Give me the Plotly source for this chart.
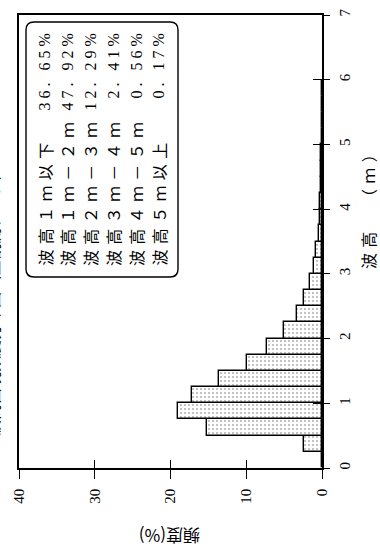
"""Wave height frequency histogram (rotated page layout) using Plotly."""

import plotly.graph_objects as go

# ---- data ----
bin_centers = [0.125, 0.375, 0.625, 0.875, 1.125, 1.375, 1.625, 1.875,
               2.125, 2.375, 2.625, 2.875, 3.125, 3.375, 3.625, 3.875,
               4.125, 4.375, 4.625, 4.875, 5.125, 5.375, 5.625, 5.875]
freq = [0.0, 2.4, 15.2, 19.0, 17.1, 13.6, 9.9, 7.3,
        5.0, 3.3, 2.4, 1.6, 1.05, 0.75, 0.4, 0.2,
        0.22, 0.15, 0.11, 0.08, 0.06, 0.05, 0.04, 0.02]
bin_width = 0.25

class_labels = ["波高１ｍ以下", "波高１ｍ－２ｍ", "波高２ｍ－３ｍ",
                "波高３ｍ－４ｍ", "波高４ｍ－５ｍ", "波高５ｍ以上"]
class_values = ["36. 65%", "47. 92%", "12. 29%", "2. 41%", "0. 56%", "0. 17%"]

height_ticks = [0, 1, 2, 3, 4, 5, 6, 7]
freq_ticks = [0, 10, 20, 30, 40]

W, H = 380, 552
L, R, T, B = 19, 58, 15, 84
PW, PH = W - L - R, H - T - B

SERIF = "Liberation Serif, Noto Sans CJK JP, serif"
CJK = "Noto Sans CJK JP, Liberation Serif, sans-serif"


def px(xp):
    return (xp - L) / PW


def py(yp):
    return (H - B - yp) / PH


def spaced(s, gap):
    # old typeset look: wide character pitch
    return gap.join(s)


fig = go.Figure()

fig.add_trace(go.Bar(
    y=bin_centers, x=freq, orientation="h", width=bin_width,
    marker=dict(color="white", line=dict(color="black", width=1.4),
                pattern=dict(shape=".", fgcolor="#555555", bgcolor="white",
                             size=4, solidity=0.18)),
    showlegend=False, hoverinfo="skip",
))
# empty trace just so the overlaid (inside-tick) axes get drawn
fig.add_trace(go.Scatter(x=[None], y=[None], xaxis="x2", yaxis="y2",
                         showlegend=False, hoverinfo="skip"))

axis_common = dict(showgrid=False, zeroline=False, color="black")

fig.update_layout(
    width=W, height=H,
    margin=dict(l=L, r=R, t=T, b=B, autoexpand=False),
    paper_bgcolor="white", plot_bgcolor="white",
    bargap=0,
    xaxis=dict(range=[40, 0], tickvals=freq_ticks, tickangle=-90,
               ticks="outside", ticklen=9, tickwidth=1.3, tickcolor="black",
               showline=True, linewidth=1.6, linecolor="black", mirror=True,
               tickfont=dict(family=SERIF, size=15, color="black"),
               ticklabelstandoff=4, **axis_common),
    yaxis=dict(range=[0, 7], tickvals=height_ticks, tickangle=-90, side="right",
               ticks="outside", ticklen=6, tickwidth=1.3, tickcolor="black",
               showline=True, linewidth=1.6, linecolor="black", mirror=True,
               tickfont=dict(family=SERIF, size=15, color="black"),
               ticklabelstandoff=2, **axis_common),
    xaxis2=dict(range=[40, 0], tickvals=freq_ticks, overlaying="x", side="bottom",
                anchor="y2", ticks="inside", ticklen=8, tickwidth=1.3,
                tickcolor="black", showticklabels=False, **axis_common),
    yaxis2=dict(range=[0, 7], tickvals=height_ticks, overlaying="y", side="right",
                anchor="x2", ticks="inside", ticklen=9, tickwidth=1.3,
                tickcolor="black", showticklabels=False, **axis_common),
)

# rounded legend box
x0, x1, y0, y1, r = px(26), px(178), py(22), py(277), 8
rx, ry = r / PW, r / PH
path = (f"M {x0 + rx},{y0} L {x1 - rx},{y0} Q {x1},{y0} {x1},{y0 - ry} "
        f"L {x1},{y1 + ry} Q {x1},{y1} {x1 - rx},{y1} "
        f"L {x0 + rx},{y1} Q {x0},{y1} {x0},{y1 + ry} "
        f"L {x0},{y0 - ry} Q {x0},{y0} {x0 + rx},{y0} Z")
fig.add_shape(type="path", path=path, xref="paper", yref="paper",
              line=dict(color="black", width=1.4), fillcolor="rgba(0,0,0,0)")

col_x = [44, 67, 90, 113, 136, 158]
for cx, lab, val in zip(col_x, class_labels, class_values):
    fig.add_annotation(
        x=px(cx), y=py(268), xref="paper", yref="paper", showarrow=False,
        text=spaced(lab, "\u2004"), textangle=-90,
        xanchor="center", yanchor="bottom",
        font=dict(family=CJK, size=16, color="black"))
    fig.add_annotation(
        x=px(cx), y=py(32), xref="paper", yref="paper", showarrow=False,
        text=spaced(val, "\u2005"), textangle=-90,
        xanchor="center", yanchor="top",
        font=dict(family=SERIF, size=16, color="black"))

# axis titles
fig.add_annotation(
    x=px(368), y=py(208), xref="paper", yref="paper", showarrow=False,
    text=spaced("波高　（ｍ）", "\u2004"), textangle=-90,
    xanchor="center", yanchor="middle",
    font=dict(family=CJK, size=16, color="black"))
fig.add_annotation(
    x=px(170), y=py(537), xref="paper", yref="paper", showarrow=False,
    text="頻度(%)", textangle=180, xanchor="center", yanchor="middle",
    font=dict(family=CJK, size=17, color="black"))

# page title, mostly cut off at the left edge of the scan
fig.add_annotation(
    x=px(-8), y=py(300), xref="paper", yref="paper", showarrow=False,
    text="波高出現頻度分布図（全観測データ）", textangle=-90,
    xanchor="center", yanchor="middle",
    font=dict(family=CJK, size=16, color="black"))

fig.write_html("out.html", config={"displayModeBar": False},
               post_script="document.body.style.margin = '0';")
